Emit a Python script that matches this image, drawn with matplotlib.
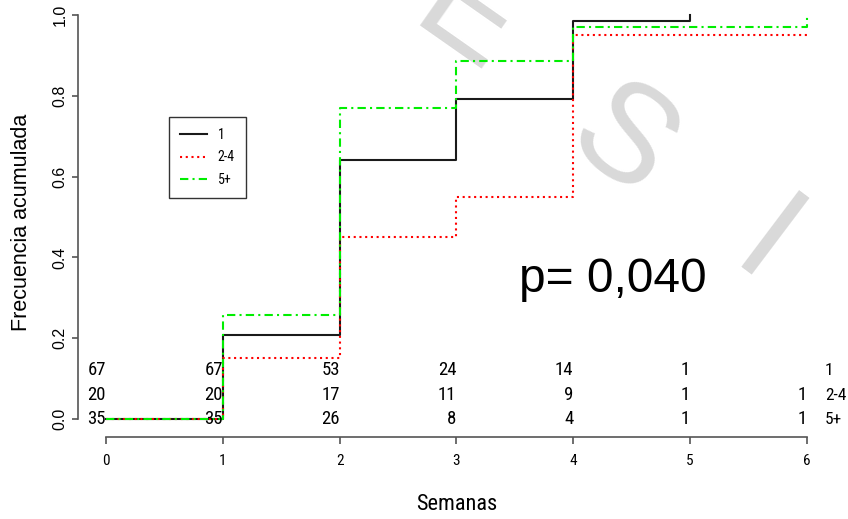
import matplotlib
matplotlib.use("Agg")
import matplotlib.pyplot as plt
from matplotlib import font_manager as fm

# ---------------- data ----------------
weeks = [0, 1, 2, 3, 4, 5, 6]
groups = ["1", "2-4", "5+"]

t_g1 = [0, 1, 2, 3, 4, 5]
y_g1 = [0.0, 0.209, 0.642, 0.791, 0.985, 1.0]
t_g24 = [0, 1, 2, 3, 4, 6]
y_g24 = [0.0, 0.150, 0.450, 0.550, 0.950, 0.950]
t_g5 = [0, 1, 2, 3, 4, 6]
y_g5 = [0.0, 0.257, 0.771, 0.886, 0.971, 1.0]

risk_g1 = ["67", "67", "53", "24", "14", "1", ""]
risk_g24 = ["20", "20", "17", "11", "9", "1", "1"]
risk_g5 = ["35", "35", "26", "8", "4", "1", "1"]

yticks = [0.0, 0.2, 0.4, 0.6, 0.8, 1.0]
ytick_labels = ["0.0", "0.2", "0.4", "0.6", "0.8", "1.0"]
p_text = "p= 0,040"
watermark = [("E", 408, 25, -35), ("S", 562, 146, -37), ("I", 727, 266, -37)]

# ---------------- fonts ----------------
names = {f.name for f in fm.fontManager.ttflist}
NARROW = None
for cand in ["Liberation Sans Narrow", "Arimo Narrow", "Roboto Condensed",
             "Archivo Narrow", "IBM Plex Sans Condensed"]:
    if cand in names:
        NARROW = cand
        break
if NARROW is None:
    NARROW = "Liberation Sans"
REG = "Liberation Sans"
plt.rcParams["font.family"] = [REG, "DejaVu Sans"]

W, H = 848, 519
fig = plt.figure(figsize=(W / 100, H / 100), dpi=100)
fig.patch.set_facecolor("white")

def fpx(x, y):
    return (x / W, 1 - y / H)

# watermark (behind everything)
for ch, x, y, rot in watermark:
    fig.text(*fpx(x, y), ch, fontsize=100, family=REG, color="#d9d9d9",
             rotation=rot, rotation_mode="anchor", ha="left", va="baseline",
             zorder=-5)

ax = fig.add_axes([78 / W, (H - 437) / H, 770 / W, 437 / H])
ax.patch.set_alpha(0)
ax.set_xlim(-0.2397, 6.351)
ax.set_ylim(-0.04455, 1.03713)

lw = 1.5
l1, = ax.step(t_g1, y_g1, where="post", color="#1a1a1a", lw=lw, label=groups[0])
l2, = ax.step(t_g24, y_g24, where="post", color="#ff0000", lw=lw,
              dashes=(1, 1.75), label=groups[1])
l3, = ax.step(t_g5, y_g5, where="post", color="#00ee00", lw=lw,
              dashes=(4, 2, 1, 2), label=groups[2])
for l in (l1, l2, l3):
    l.set_clip_on(False)

# axes styling (R style)
for s in ("top", "right"):
    ax.spines[s].set_visible(False)
ax.spines["left"].set_bounds(0, 1)
ax.spines["bottom"].set_bounds(0, 6)
for s in ("left", "bottom"):
    ax.spines[s].set_color("#555555")
    ax.spines[s].set_linewidth(1.2)

ax.set_xticks(weeks)
ax.set_xticklabels([str(w) for w in weeks], family=NARROW, fontsize=11)
ax.tick_params(axis="x", direction="out", length=5, width=1.2, color="#555555", pad=7)
ax.set_yticks(yticks)
ax.set_yticklabels(ytick_labels, rotation=90, va="center", family=REG, fontsize=11.5)
ax.tick_params(axis="y", direction="out", length=4.3, width=1.2, color="#555555", pad=3)

fig.text(*fpx(457, 505), "Semanas", family=NARROW, fontsize=16, ha="center", va="center")
fig.text(*fpx(22, 222), "Frecuencia acumulada", family=REG, fontsize=15.5,
         rotation=90, ha="center", va="center")

# numbers at risk
row_y = [0.121, 0.0594, 0.0]
for rows, yy, g in zip((risk_g1, risk_g24, risk_g5), row_y, groups):
    for w, s in zip(weeks, rows):
        if s:
            ax.text(w, yy, s, ha="right", va="center", family=NARROW, fontsize=13.5)
    ax.text(6.155, yy, g, ha="left", va="center", family=NARROW, fontsize=12.5)

fig.text(*fpx(519, 292), p_text, family=REG, fontsize=34.5, ha="left", va="baseline")

leg = ax.legend(handles=[l1, l2, l3], loc="upper left",
                bbox_to_anchor=fpx(169, 117), bbox_transform=fig.transFigure,
                borderaxespad=0, frameon=True, fancybox=False, edgecolor="black",
                prop={"family": NARROW, "size": 10}, handlelength=1.9,
                handletextpad=0.8, labelspacing=0.6, borderpad=0.8)
leg.get_frame().set_linewidth(1.0)

fig.savefig("out.png", dpi=100, facecolor="white")
